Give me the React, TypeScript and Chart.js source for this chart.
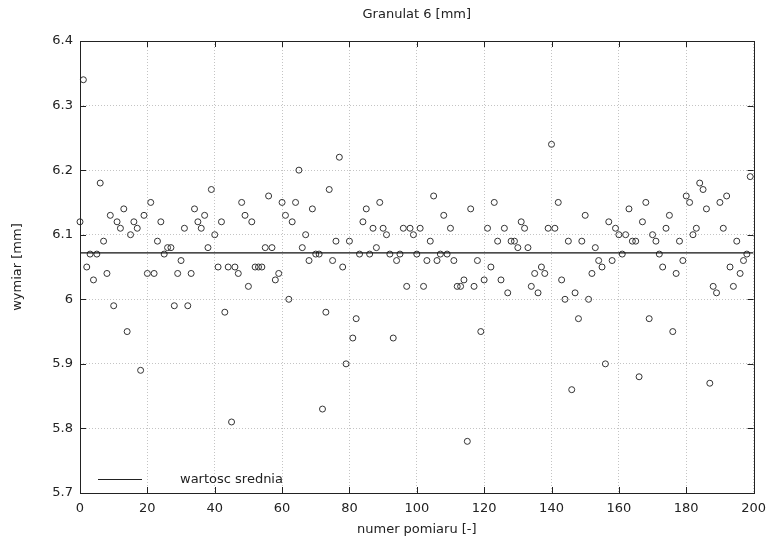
import React, { useEffect, useRef } from 'react';
import { Chart, registerables } from 'chart.js';

Chart.register(...registerables);

const TITLE = 'Granulat 6 [mm]';
const X_TITLE = 'numer pomiaru [-]';
const Y_TITLE = 'wymiar [mm]';
const LEGEND_LABEL = 'wartosc srednia';

const X_MIN = 0;
const X_MAX = 200;
const Y_MIN = 5.7;
const Y_MAX = 6.4;

const X_TICKS = [0, 20, 40, 60, 80, 100, 120, 140, 160, 180, 200];
const Y_TICKS = [5.7, 5.8, 5.9, 6.0, 6.1, 6.2, 6.3, 6.4];
const Y_TICK_LABELS = ['5.7', '5.8', '5.9', '6', '6.1', '6.2', '6.3', '6.4'];

// measurement number = index (0..199)
const MEASUREMENTS = [
  6.12, 6.34, 6.05, 6.07, 6.03, 6.07, 6.18, 6.09, 6.04, 6.13,
  5.99, 6.12, 6.11, 6.14, 5.95, 6.10, 6.12, 6.11, 5.89, 6.13,
  6.04, 6.15, 6.04, 6.09, 6.12, 6.07, 6.08, 6.08, 5.99, 6.04,
  6.06, 6.11, 5.99, 6.04, 6.14, 6.12, 6.11, 6.13, 6.08, 6.17,
  6.10, 6.05, 6.12, 5.98, 6.05, 5.81, 6.05, 6.04, 6.15, 6.13,
  6.02, 6.12, 6.05, 6.05, 6.05, 6.08, 6.16, 6.08, 6.03, 6.04,
  6.15, 6.13, 6.00, 6.12, 6.15, 6.20, 6.08, 6.10, 6.06, 6.14,
  6.07, 6.07, 5.83, 5.98, 6.17, 6.06, 6.09, 6.22, 6.05, 5.90,
  6.09, 5.94, 5.97, 6.07, 6.12, 6.14, 6.07, 6.11, 6.08, 6.15,
  6.11, 6.10, 6.07, 5.94, 6.06, 6.07, 6.11, 6.02, 6.11, 6.10,
  6.07, 6.11, 6.02, 6.06, 6.09, 6.16, 6.06, 6.07, 6.13, 6.07,
  6.11, 6.06, 6.02, 6.02, 6.03, 5.78, 6.14, 6.02, 6.06, 5.95,
  6.03, 6.11, 6.05, 6.15, 6.09, 6.03, 6.11, 6.01, 6.09, 6.09,
  6.08, 6.12, 6.11, 6.08, 6.02, 6.04, 6.01, 6.05, 6.04, 6.11,
  6.24, 6.11, 6.15, 6.03, 6.00, 6.09, 5.86, 6.01, 5.97, 6.09,
  6.13, 6.00, 6.04, 6.08, 6.06, 6.05, 5.90, 6.12, 6.06, 6.11,
  6.10, 6.07, 6.10, 6.14, 6.09, 6.09, 5.88, 6.12, 6.15, 5.97,
  6.10, 6.09, 6.07, 6.05, 6.11, 6.13, 5.95, 6.04, 6.09, 6.06,
  6.16, 6.15, 6.10, 6.11, 6.18, 6.17, 6.14, 5.87, 6.02, 6.01,
  6.15, 6.11, 6.16, 6.05, 6.02, 6.09, 6.04, 6.06, 6.07, 6.19,
];

const MEAN_VALUE = 6.072;

const FONT_FAMILY = '"DejaVu Sans", "Liberation Sans", Arial, sans-serif';
const FONT_SIZE = 13;
const TEXT_COLOR = '#222';

const framePlugin = {
  id: 'frameAndLabels',
  afterDraw(chart: any) {
    const { ctx, chartArea: a, scales } = chart;
    ctx.save();
    ctx.strokeStyle = '#222';
    ctx.lineWidth = 1;
    ctx.strokeRect(Math.round(a.left) + 0.5, Math.round(a.top) + 0.5, Math.round(a.right - a.left), Math.round(a.bottom - a.top));
    const L = 6;
    ctx.beginPath();
    for (const v of X_TICKS) {
      const x = Math.round(scales.x.getPixelForValue(v)) + 0.5;
      ctx.moveTo(x, a.top);
      ctx.lineTo(x, a.top + L);
      ctx.moveTo(x, a.bottom);
      ctx.lineTo(x, a.bottom - L);
    }
    for (const v of Y_TICKS) {
      const y = Math.round(scales.y.getPixelForValue(v)) + 0.5;
      ctx.moveTo(a.left, y);
      ctx.lineTo(a.left + L, y);
      ctx.moveTo(a.right, y);
      ctx.lineTo(a.right - L, y);
    }
    ctx.stroke();

    ctx.fillStyle = TEXT_COLOR;
    ctx.font = `${FONT_SIZE}px ${FONT_FAMILY}`;
    ctx.textAlign = 'center';
    ctx.textBaseline = 'middle';
    ctx.fillText(TITLE, (a.left + a.right) / 2, 15);

    const ly = Math.round(a.bottom - 14) + 0.5;
    ctx.beginPath();
    ctx.moveTo(a.left + 18, ly);
    ctx.lineTo(a.left + 62, ly);
    ctx.stroke();
    ctx.textAlign = 'left';
    ctx.fillText(LEGEND_LABEL, a.left + 100, ly);
    ctx.restore();
  },
};

export default function App() {
  const canvasRef = useRef<HTMLCanvasElement | null>(null);

  useEffect(() => {
    const canvas = canvasRef.current;
    if (!canvas) return;
    const font = { family: FONT_FAMILY, size: FONT_SIZE };
    const points = MEASUREMENTS.map((v, i) => ({ x: i, y: v }));
    const meanLine = [
      { x: X_MIN, y: MEAN_VALUE },
      { x: X_MAX, y: MEAN_VALUE },
    ];
    const chart = new Chart(canvas, {
      type: 'scatter',
      data: {
        datasets: [
          {
            type: 'line',
            label: LEGEND_LABEL,
            data: meanLine,
            borderColor: '#111',
            borderWidth: 1.2,
            pointRadius: 0,
            fill: false,
          } as any,
          {
            type: 'scatter',
            label: 'pomiary',
            data: points,
            pointStyle: 'circle',
            pointRadius: 3,
            pointHoverRadius: 3,
            borderWidth: 1,
            borderColor: '#333',
            backgroundColor: 'rgba(0,0,0,0)',
            clip: false,
          } as any,
        ],
      },
      options: {
        animation: false,
        responsive: false,
        devicePixelRatio: 1,
        events: [],
        layout: { padding: { top: 41, right: 17, bottom: 0, left: 0 } },
        plugins: {
          legend: { display: false },
          title: { display: false },
          tooltip: { enabled: false },
        },
        scales: {
          x: {
            type: 'linear',
            min: X_MIN,
            max: X_MAX,
            afterBuildTicks: (s: any) => {
              s.ticks = X_TICKS.map((v) => ({ value: v }));
            },
            afterFit: (s: any) => {
              s.height = 51;
            },
            ticks: {
              color: TEXT_COLOR,
              font,
              padding: 8,
              maxRotation: 0,
              autoSkip: false,
              callback: (v: any) => String(v),
            },
            grid: { color: '#c4c4c4', lineWidth: 1, drawTicks: false },
            border: { display: false, dash: [1, 2] },
            title: {
              display: true,
              text: X_TITLE,
              color: TEXT_COLOR,
              font,
              padding: { top: 0, bottom: 7 },
            },
          },
          y: {
            type: 'linear',
            min: Y_MIN,
            max: Y_MAX,
            afterBuildTicks: (s: any) => {
              s.ticks = Y_TICKS.map((v) => ({ value: v }));
            },
            afterFit: (s: any) => {
              s.width = 80;
            },
            ticks: {
              color: TEXT_COLOR,
              font,
              padding: 7,
              autoSkip: false,
              callback: (v: any) => {
                const i = Y_TICKS.findIndex((t) => Math.abs(t - Number(v)) < 1e-6);
                return i >= 0 ? Y_TICK_LABELS[i] : '';
              },
            },
            grid: { color: '#c4c4c4', lineWidth: 1, drawTicks: false },
            border: { display: false, dash: [1, 2] },
            title: {
              display: true,
              text: Y_TITLE,
              color: TEXT_COLOR,
              font,
              padding: { top: 10, bottom: 0 },
            },
          },
        },
      },
      plugins: [framePlugin],
    } as any);
    return () => chart.destroy();
  }, []);

  return (
    <div style={{ position: 'fixed', left: 0, top: 0, width: 774, height: 544, background: '#fff' }}>
      <canvas ref={canvasRef} width={774} height={544} style={{ display: 'block' }} />
    </div>
  );
}
